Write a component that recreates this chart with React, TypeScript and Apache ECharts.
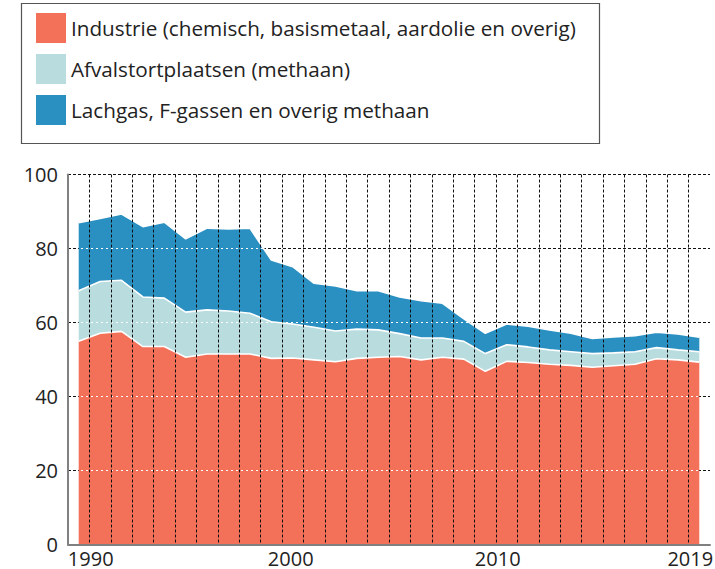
import React, { useEffect, useRef } from 'react';
import * as echarts from 'echarts';

const years = [
  '1990', '1991', '1992', '1993', '1994', '1995', '1996', '1997', '1998', '1999',
  '2000', '2001', '2002', '2003', '2004', '2005', '2006', '2007', '2008', '2009',
  '2010', '2011', '2012', '2013', '2014', '2015', '2016', '2017', '2018', '2019',
];

const industrie = [
  54.9, 57.1, 57.6, 53.5, 53.5, 50.6, 51.5, 51.5, 51.5, 50.3,
  50.4, 49.9, 49.4, 50.3, 50.6, 50.8, 49.9, 50.6, 50.1, 46.8,
  49.5, 49.2, 48.7, 48.4, 47.9, 48.3, 48.7, 50.2, 49.9, 49.3,
];

const afval = [
  13.7, 14.0, 13.8, 13.4, 13.1, 12.2, 11.9, 11.6, 11.0, 9.9,
  9.2, 8.8, 8.3, 7.9, 7.4, 6.2, 5.9, 5.2, 4.8, 4.8,
  4.5, 4.2, 3.9, 3.7, 3.7, 3.5, 3.4, 3.0, 2.7, 2.8,
];

const overig = [
  18.4, 17.0, 17.9, 19.0, 20.5, 19.8, 22.1, 22.2, 23.0, 16.7,
  15.5, 11.9, 12.2, 10.4, 10.6, 9.9, 10.1, 9.4, 6.1, 5.5,
  5.6, 5.6, 5.4, 5.0, 4.1, 4.3, 4.3, 4.2, 4.3, 3.9,
];

const seriesNames = [
  'Industrie (chemisch, basismetaal, aardolie en overig)',
  'Afvalstortplaatsen (methaan)',
  'Lachgas, F-gassen en overig methaan',
];

const xTickLabels = ['1990', '2000', '2010', '2019'];

const colors = ['#F47159', '#B9DCDF', '#2A8FC1'];
const FONT = '"Open Sans", "Noto Sans", sans-serif';
const TEXT = '#222222';

export default function App() {
  const ref = useRef<HTMLDivElement>(null);

  useEffect(() => {
    document.body.style.margin = '0';
    document.body.style.overflow = 'hidden';
    const chart = echarts.init(ref.current as HTMLDivElement, null, {
      renderer: 'svg',
      width: 715,
      height: 569,
    });
    const labelKey: Record<string, string> = { '1990': 'a', '2000': 'b', '2010': 'c', '2019': 'c' };
    const baseRich = { fontSize: 20, color: TEXT, fontFamily: FONT, lineHeight: 18 };
    const values = [industrie, afval, overig];

    chart.setOption({
      animation: false,
      textStyle: { fontFamily: FONT },
      graphic: [
        {
          type: 'rect',
          silent: true,
          shape: { x: 21.5, y: 3.5, width: 578, height: 140 },
          style: { fill: 'none', stroke: '#555555', lineWidth: 1.2 },
        },
      ],
      legend: {
        orient: 'vertical',
        left: 36,
        top: 13,
        padding: 0,
        itemWidth: 30,
        itemHeight: 30,
        itemGap: 11,
        icon: 'rect',
        selectedMode: false,
        itemStyle: { borderWidth: 0 },
        textStyle: { fontSize: 20.7, color: TEXT, fontFamily: FONT },
        data: seriesNames,
      },
      grid: {
        left: 68,
        right: 5,
        top: 174.5,
        bottom: 24.5,
        containLabel: false,
        outerBoundsMode: 'none',
      },
      xAxis: {
        type: 'category',
        data: years,
        boundaryGap: true,
        z: 10,
        axisLine: { show: true, lineStyle: { color: '#808080', width: 2 } },
        axisTick: { show: false },
        axisLabel: {
          interval: (_i: number, v: string) => xTickLabels.includes(v),
          formatter: (v: string) => `{${labelKey[v] || 'b'}|${v}}`,
          margin: 5,
          fontSize: 20,
          color: TEXT,
          rich: {
            a: { ...baseRich, padding: [0, 0, 0, 24] },
            b: { ...baseRich, padding: [0, 4, 0, 0] },
            c: { ...baseRich, padding: [0, 18, 0, 0] },
          },
        },
        splitLine: {
          show: true,
          interval: 0,
          showMinLine: false,
          showMaxLine: false,
          lineStyle: { color: '#111111', type: [3, 2], width: 1 },
        },
      },
      yAxis: [
        {
          type: 'value',
          min: 0,
          max: 100,
          interval: 20,
          axisLine: { show: true, lineStyle: { color: '#808080', width: 2 } },
          axisTick: { show: false },
          axisLabel: { fontSize: 20, color: TEXT, margin: 10, fontFamily: FONT },
          splitLine: {
            show: true,
            showMinLine: false,
            lineStyle: { color: '#111111', type: [3, 2], width: 1 },
          },
        },
        {
          type: 'value',
          min: 0,
          max: 100,
          interval: 20,
          position: 'left',
          z: 5,
          axisLine: { show: false },
          axisTick: { show: false },
          axisLabel: { show: false },
          splitLine: {
            show: true,
            showMinLine: false,
            showMaxLine: false,
            lineStyle: { color: '#ffffff', type: [2, 3], dashOffset: 2, width: 1 },
          },
        },
      ],
      series: seriesNames.map((name, i) => ({
        name,
        type: 'line',
        stack: 'total',
        yAxisIndex: 0,
        z: 4 - i,
        symbol: 'none',
        color: colors[i],
        itemStyle: { color: colors[i] },
        lineStyle: { color: '#ffffff', width: 1.6 },
        areaStyle: { color: colors[i], opacity: 1 },
        data: values[i],
      })),
    });

    return () => {
      chart.dispose();
    };
  }, []);

  return (
    <div
      ref={ref}
      style={{ position: 'absolute', left: 0, top: 0, width: 715, height: 569, overflow: 'hidden' }}
    />
  );
}
